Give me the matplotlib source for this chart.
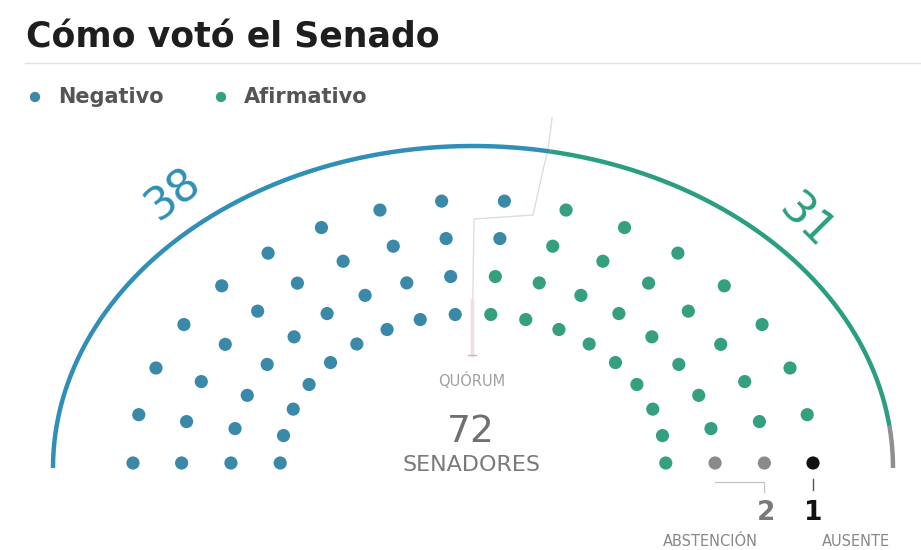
import matplotlib.pyplot as plt
import numpy as np

# datos de la votación
parties = ['Negativo', 'Afirmativo', 'Abstención', 'Ausente']
seats = [38, 31, 2, 1]
colors = ['#3a89a8', '#35a07f', '#8a8a8a', '#111111']
arc_colors = ['#2f8fb6', '#2a9e80', '#8f8f8f']
n_rows = 4
per_row = 18
row_radius = [1.0, 0.857, 0.712, 0.567]
total = sum(seats)

# geometria (pixeles)
cx, cy = 473, 463
sx, sy = 340, 263
arc_cy, arc_rx, arc_ry = 468, 420, 322

fig = plt.figure(figsize=(9.21, 5.5), dpi=100)
ax = fig.add_axes([0, 0, 1, 1])
ax.set_xlim(0, 921)
ax.set_ylim(550, 0)
ax.axis('off')

# asientos: columna j (izq -> der), fila k (exterior -> interior)
cols = np.repeat(np.arange(per_row), n_rows)
rows = np.tile(np.arange(n_rows), per_row)
theta = np.pi - cols * np.pi / (per_row - 1)
rr = np.array(row_radius)[rows]
xs = cx + rr * sx * np.cos(theta)
ys = cy - rr * sy * np.sin(theta)

seat_party = np.full(total, 1)
order_left = np.lexsort((rows, cols))
seat_party[order_left[:seats[0]]] = 0
order_right = np.lexsort((rows, -cols))
seat_party[order_right[:seats[3]]] = 3
seat_party[order_right[seats[3]:seats[3] + seats[2]]] = 2

for p in range(len(parties)):
    m = seat_party == p
    ax.scatter(xs[m], ys[m], s=90, color=colors[p], edgecolors='none', zorder=3)

# arco exterior dividido
last_neg_col = cols[seat_party == 0].max()
b1 = np.pi - (last_neg_col + 0.5) * np.pi / (per_row - 1)
b2 = np.pi * (seats[2] + seats[3]) / total
for (t0, t1), c in zip([(np.pi, b1), (b1, b2), (b2, 0)], arc_colors):
    t = np.linspace(t0, t1, 200)
    ax.plot(cx + arc_rx * np.cos(t), arc_cy - arc_ry * np.sin(t), color=c,
            lw=3.2, solid_capstyle='butt', zorder=2)

# línea de quórum
ax.plot([552, 548, 544, 533, 474, 472], [118, 150, 166, 215, 219, 355],
        color='#e6d8e0', lw=1, zorder=1)
ax.plot([472, 472], [300, 355], color='#efdde8', lw=2.5, zorder=1)
ax.plot([468, 476], [355, 355], color='#c9b6c1', lw=1, zorder=1)

# textos
ax.text(26, 37, 'Cómo votó el Senado', fontsize=25, fontweight='bold',
        color='#1e1e1e', va='center', ha='left')
ax.plot([25, 921], [63, 63], color='#e2e2e2', lw=1)
ax.scatter([35], [97], s=55, color=colors[0], edgecolors='none')
ax.text(58, 97, parties[0], fontsize=15, fontweight='semibold', color='#555555',
        va='center')
ax.scatter([221], [97], s=55, color=colors[1], edgecolors='none')
ax.text(244, 97, parties[1], fontsize=15, fontweight='semibold', color='#555555',
        va='center')

ax.text(173, 195, str(seats[0]), fontsize=32, color=arc_colors[0], rotation=37,
        ha='center', va='center', rotation_mode='anchor')
ax.text(806, 222, str(seats[1]), fontsize=32, color=arc_colors[1], rotation=-45,
        ha='center', va='center', rotation_mode='anchor')

ax.text(472, 381, 'QUÓRUM', fontsize=10.5, color='#a0a0a0', ha='center',
        va='center')
ax.text(471, 432, str(total), fontsize=27, color='#707070', ha='center',
        va='center')
ax.text(471, 465, 'SENADORES', fontsize=16, color='#7a7a7a', ha='center',
        va='center')

# abstención / ausente
abs_x = xs[seat_party == 2]
aus_x = xs[seat_party == 3]
ax.plot([abs_x.min(), abs_x.max(), abs_x.max()], [482, 482, 492],
        color='#c8c8c8', lw=1)
ax.plot([aus_x[0], aus_x[0]], [479, 490], color='#555555', lw=1)
ax.text(abs_x.max() + 2, 513, str(seats[2]), fontsize=19, fontweight='bold',
        color='#7a7a7a', ha='center', va='center')
ax.text(aus_x[0], 513, str(seats[3]), fontsize=19, fontweight='bold',
        color='#111111', ha='center', va='center')
ax.text(710, 541, parties[2].upper(), fontsize=10.5, color='#888888',
        ha='center', va='center')
ax.text(856, 541, parties[3].upper(), fontsize=10.5, color='#888888',
        ha='center', va='center')

plt.savefig('out.png', dpi=100)
